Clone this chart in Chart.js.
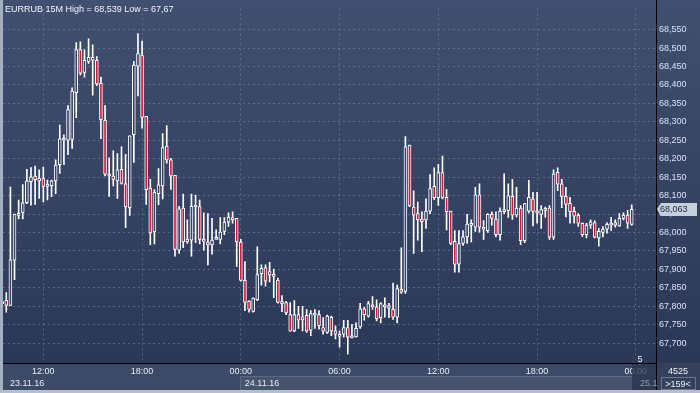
<!DOCTYPE html>
<html>
<head>
<meta charset="utf-8">
<script src="https://cdn.jsdelivr.net/npm/chart.js@4.4.0/dist/chart.umd.min.js"></script>
<style>
  html, body { margin: 0; padding: 0; background: #3b4867; }
  #c { display: block; }
</style>
</head>
<body>
<canvas id="c" width="700" height="393"></canvas>
<script>
// ---------- Data (15 min bars, 23.11.16 09:30 .. 24.11.16 23:45) ----------
const opens = [
  67.809, 67.816, 67.802, 67.925, 68.046, 68.054, 68.081, 68.138, 68.153, 68.140,
  68.146, 68.125, 68.127, 68.140, 68.184, 68.250, 68.250, 68.252, 68.379, 68.496,
  68.434, 68.464, 68.467, 68.467, 68.404, 68.304, 68.158, 68.153, 68.140, 68.171,
  68.132, 68.067, 68.265, 68.451, 68.480, 68.315, 68.120, 68.002, 68.105, 68.126,
  68.234, 68.197, 68.155, 67.952, 68.066, 67.974, 67.979, 68.069, 68.070, 67.982,
  67.974, 67.966, 67.981, 67.981, 68.003, 68.028, 68.040, 68.038, 67.974, 67.870,
  67.813, 67.786, 67.817, 67.888, 67.905, 67.885, 67.886, 67.870, 67.807, 67.810,
  67.777, 67.733, 67.777, 67.763, 67.775, 67.735, 67.776, 67.777, 67.742, 67.729,
  67.770, 67.733, 67.718, 67.724, 67.742, 67.714, 67.717, 67.744, 67.793, 67.773,
  67.804, 67.798, 67.769, 67.798, 67.802, 67.792, 67.770, 67.846, 67.840, 68.237,
  68.069, 68.051, 68.036, 68.034, 68.058, 68.125, 68.094, 68.162, 68.095, 68.058,
  67.976, 67.914, 67.970, 67.988, 68.019, 68.014, 68.102, 68.009, 68.005, 68.049,
  68.036, 67.994, 68.056, 68.060, 68.098, 68.047, 68.066, 67.978, 68.058, 68.091,
  68.057, 68.049, 68.060, 68.066, 67.987, 68.163, 68.132, 68.098, 68.079, 68.057,
  68.047, 68.025, 67.994, 68.020, 68.027, 67.985, 68.000, 68.009, 68.020, 68.027,
  68.018, 68.038, 68.047, 68.022
];
const highs = [
  67.819, 67.837, 68.123, 68.050, 68.088, 68.130, 68.171, 68.176, 68.180, 68.170,
  68.177, 68.142, 68.142, 68.197, 68.291, 68.265, 68.344, 68.392, 68.515, 68.517,
  68.495, 68.525, 68.509, 68.477, 68.421, 68.344, 68.202, 68.221, 68.214, 68.232,
  68.212, 68.262, 68.464, 68.539, 68.519, 68.315, 68.144, 68.116, 68.173, 68.268,
  68.290, 68.201, 68.155, 68.071, 68.104, 68.034, 68.104, 68.101, 68.088, 68.053,
  68.051, 68.038, 68.007, 68.040, 68.040, 68.053, 68.056, 68.038, 67.981, 67.921,
  67.815, 67.823, 67.961, 67.912, 67.912, 67.919, 67.901, 67.876, 67.829, 67.813,
  67.810, 67.815, 67.800, 67.800, 67.791, 67.788, 67.791, 67.788, 67.769, 67.776,
  67.773, 67.747, 67.733, 67.762, 67.762, 67.751, 67.755, 67.808, 67.797, 67.813,
  67.826, 67.817, 67.810, 67.823, 67.808, 67.863, 67.857, 67.958, 68.260, 68.237,
  68.113, 68.082, 68.056, 68.091, 68.157, 68.175, 68.185, 68.207, 68.117, 68.058,
  68.005, 68.005, 68.005, 68.049, 68.034, 68.122, 68.132, 68.032, 68.051, 68.056,
  68.056, 68.067, 68.159, 68.132, 68.144, 68.122, 68.073, 68.079, 68.141, 68.109,
  68.109, 68.073, 68.069, 68.073, 68.170, 68.175, 68.144, 68.122, 68.095, 68.069,
  68.051, 68.026, 68.025, 68.034, 68.032, 68.011, 68.016, 68.027, 68.041, 68.034,
  68.051, 68.053, 68.060, 68.075
];
const lows = [
  67.796, 67.784, 67.802, 67.872, 68.037, 68.037, 68.078, 68.074, 68.076, 68.092,
  68.083, 68.088, 68.097, 68.105, 68.160, 68.184, 68.211, 68.228, 68.311, 68.427,
  68.421, 68.458, 68.372, 68.398, 68.254, 68.153, 68.098, 68.126, 68.092, 68.131,
  68.013, 68.046, 68.190, 68.370, 68.283, 68.076, 67.967, 67.969, 68.075, 68.091,
  68.188, 68.117, 67.936, 67.943, 67.959, 67.970, 67.936, 67.972, 67.969, 67.952,
  67.912, 67.941, 67.981, 67.969, 67.994, 68.016, 68.025, 67.908, 67.868, 67.788,
  67.784, 67.784, 67.815, 67.857, 67.854, 67.866, 67.823, 67.808, 67.785, 67.777,
  67.732, 67.731, 67.740, 67.733, 67.729, 67.720, 67.740, 67.738, 67.724, 67.726,
  67.720, 67.711, 67.689, 67.716, 67.670, 67.714, 67.716, 67.740, 67.762, 67.770,
  67.791, 67.760, 67.755, 67.770, 67.769, 67.764, 67.755, 67.835, 67.835, 68.070,
  67.943, 67.979, 67.948, 68.011, 68.051, 68.089, 68.073, 68.091, 68.007, 67.967,
  67.892, 67.892, 67.965, 67.970, 67.974, 68.003, 68.001, 67.981, 68.000, 68.020,
  67.988, 67.979, 68.051, 68.041, 68.035, 68.042, 67.967, 67.972, 68.053, 68.018,
  68.025, 68.011, 68.041, 67.981, 67.981, 68.113, 68.067, 68.042, 68.025, 68.025,
  68.016, 67.989, 67.985, 68.011, 67.985, 67.963, 67.988, 67.998, 68.005, 68.014,
  68.016, 68.034, 68.011, 68.020
];
const closes = [
  67.807, 67.802, 67.926, 68.049, 68.052, 68.080, 68.140, 68.151, 68.143, 68.147,
  68.125, 68.130, 68.140, 68.183, 68.254, 68.252, 68.333, 68.383, 68.496, 68.432,
  68.467, 68.475, 68.475, 68.403, 68.306, 68.158, 68.153, 68.144, 68.170, 68.133,
  68.069, 68.262, 68.454, 68.485, 68.312, 68.116, 67.999, 68.109, 68.129, 68.230,
  68.197, 68.153, 67.954, 68.064, 67.974, 67.982, 68.071, 68.073, 67.981, 67.976,
  67.966, 67.979, 67.985, 68.001, 68.028, 68.042, 68.034, 67.974, 67.870, 67.810,
  67.791, 67.822, 67.886, 67.903, 67.868, 67.894, 67.881, 67.810, 67.811, 67.782,
  67.732, 67.777, 67.762, 67.771, 67.733, 67.780, 67.780, 67.747, 67.732, 67.773,
  67.733, 67.724, 67.723, 67.742, 67.716, 67.717, 67.740, 67.793, 67.777, 67.807,
  67.798, 67.766, 67.807, 67.802, 67.795, 67.770, 67.848, 67.838, 68.232, 68.072,
  68.047, 68.034, 68.029, 68.058, 68.119, 68.094, 68.162, 68.095, 68.056, 67.970,
  67.913, 67.970, 67.988, 68.023, 68.022, 68.102, 68.014, 68.014, 68.049, 68.038,
  67.994, 68.058, 68.062, 68.100, 68.047, 68.066, 67.978, 68.078, 68.095, 68.057,
  68.053, 68.062, 68.064, 67.987, 68.159, 68.131, 68.098, 68.076, 68.056, 68.044,
  68.025, 67.994, 68.020, 68.029, 67.987, 68.003, 68.009, 68.022, 68.025, 68.020,
  68.038, 68.047, 68.025, 68.063
];

// time axis: bar index of each labelled hour
const timeTickIdx = [10, 34, 58, 82, 106, 130, 154];
const timeTickLabels = ['12:00', '18:00', '00:00', '06:00', '12:00', '18:00', '00:00'];
const dayLabels = ['23.11.16', '24.11.16', '25.1'];

const priceTicks = [67.70, 67.75, 67.80, 67.85, 67.90, 67.95, 68.00, 68.05, 68.10,
  68.15, 68.20, 68.25, 68.30, 68.35, 68.40, 68.45, 68.50, 68.55];

const titleText = 'EURRUB 15M High = 68,539 Low = 67,67';

// ---------- Styles ----------
const FONT = 'Liberation Sans, Arial, sans-serif';
const RED = '#dc143c';
const UP_FILL = '#36446a';
const GRID = 'rgba(120,136,170,0.55)';
const fmt = v => v.toFixed(3).replace('.', ',');

// ---------- Background / overlay ----------
const bgPlugin = {
  id: 'bg',
  beforeDraw(chart) {
    const { ctx, chartArea: a } = chart;
    ctx.save();
    ctx.fillStyle = '#3b4867';
    ctx.fillRect(0, 0, 700, 393);
    const g = ctx.createLinearGradient(0, 0, 0, a.bottom);
    g.addColorStop(0, '#414f70');
    g.addColorStop(1, '#2b3756');
    ctx.fillStyle = g;
    ctx.fillRect(0, 0, 700, a.bottom);
    // time axis strip
    ctx.fillStyle = '#3c4967';
    ctx.fillRect(0, a.bottom, a.right, 27);
    // current day box in the date row
    const x24 = Math.round(chart.scales.x.getPixelForValue(timeTickIdx[2])) - 1;
    ctx.fillStyle = '#47546f';
    ctx.fillRect(x24, 376, 632 - x24, 14);
    ctx.strokeStyle = '#5d6984';
    ctx.lineWidth = 1;
    ctx.beginPath();
    ctx.moveTo(x24 + 0.5, 390);
    ctx.lineTo(x24 + 0.5, 376.5);
    ctx.lineTo(632, 376.5);
    ctx.stroke();
    // corner box
    ctx.fillStyle = '#34405c';
    ctx.fillRect(a.right, a.bottom, 700 - a.right, 27);
    ctx.restore();
  },
  afterDraw(chart) {
    const { ctx, chartArea: a, scales } = chart;
    ctx.save();
    // black axis lines
    ctx.strokeStyle = '#000';
    ctx.lineWidth = 1;
    ctx.beginPath();
    ctx.moveTo(a.right + 0.5, 0);
    ctx.lineTo(a.right + 0.5, 390);
    ctx.stroke();

    // title
    ctx.font = '9px ' + FONT;
    ctx.fillStyle = '#f2f4f8';
    ctx.textBaseline = 'alphabetic';
    ctx.textAlign = 'left';
    ctx.fillText(titleText, 5, 12);

    // dates
    ctx.fillStyle = '#e8edf5';
    ctx.fillText(dayLabels[0], 10, 386);
    const x24 = scales.x.getPixelForValue(timeTickIdx[2]);
    ctx.fillText(dayLabels[1], x24 + 4, 386);

    // scroll marker over the last time label
    ctx.fillStyle = 'rgba(44,55,80,0.78)';
    ctx.fillRect(632, 364, a.right - 632, 26);
    ctx.fillStyle = '#2f3b57';
    ctx.beginPath();
    ctx.moveTo(628, 363);
    ctx.lineTo(633, 356);
    ctx.lineTo(638, 363);
    ctx.fill();
    ctx.fillStyle = '#8e99ad';
    ctx.fillText(dayLabels[2], 640, 386);
    ctx.fillStyle = '#eef2f8';
    ctx.textAlign = 'center';
    ctx.fillText('5', 640, 362);

    // corner info
    ctx.fillStyle = '#eef2f8';
    ctx.fillText('4525', 678, 374);
    ctx.strokeStyle = '#6b7791';
    ctx.strokeRect(661.5, 377.5, 34, 12);
    ctx.fillText('>159<', 678, 387);

    // last price tag
    const last = closes[closes.length - 1];
    const yp = Math.round(scales.y.getPixelForValue(last));
    ctx.fillStyle = '#c6cfdc';
    ctx.beginPath();
    ctx.moveTo(a.right + 1, yp);
    ctx.lineTo(a.right + 5, yp - 6);
    ctx.lineTo(697, yp - 6);
    ctx.lineTo(697, yp + 7);
    ctx.lineTo(a.right + 5, yp + 7);
    ctx.closePath();
    ctx.fill();
    ctx.fillStyle = '#1e2a44';
    ctx.textAlign = 'left';
    ctx.textBaseline = 'middle';
    ctx.fillText(fmt(last), a.right + 4, yp + 1);

    // outer frame
    ctx.fillStyle = '#a4afc0';
    ctx.fillRect(0, 0, 3, 393);
    ctx.fillStyle = '#b8bfca';
    ctx.fillRect(0, 390, 700, 3);
    ctx.restore();
  }
};

// ---------- Chart ----------
const ctx = document.getElementById('c').getContext('2d');
const chart = new Chart(ctx, {
  type: 'bar',
  data: {
    datasets: [
      {
        label: 'body',
        data: opens.map((o, i) => ({ x: i, y: [o, closes[i]] })),
        backgroundColor: c => (closes[c.dataIndex] < opens[c.dataIndex] ? RED : UP_FILL),
        borderColor: '#ffffff',
        borderWidth: 1,
        borderSkipped: false,
        barThickness: 3,
        minBarLength: 2,
        grouped: false,
        order: 1
      },
      {
        label: 'wick',
        data: lows.map((l, i) => ({ x: i, y: [l, highs[i]] })),
        backgroundColor: '#ffffff',
        borderWidth: 0,
        barThickness: 1,
        grouped: false,
        order: 2
      }
    ]
  },
  options: {
    responsive: false,
    devicePixelRatio: 1,
    animation: false,
    layout: { padding: { left: 3, top: 0, right: 0, bottom: 0 } },
    plugins: { legend: { display: false }, tooltip: { enabled: false } },
    scales: {
      x: {
        type: 'linear',
        min: 0.2,
        max: 158.9,
        offset: false,
        grid: { color: GRID, drawTicks: false, offset: false },
        border: { color: '#000', width: 1, dash: [2, 3] },
        ticks: {
          autoSkip: false,
          maxRotation: 0,
          padding: 3,
          color: '#e8edf5',
          font: { family: FONT, size: 9 },
          callback: v => timeTickLabels[timeTickIdx.indexOf(v)]
        },
        afterBuildTicks: s => { s.ticks = timeTickIdx.map(v => ({ value: v })); },
        afterFit: s => { s.height = 30; }
      },
      y: {
        type: 'linear',
        position: 'right',
        min: 67.646,
        max: 68.6075,
        grid: { color: GRID, drawTicks: false },
        border: { color: '#000', width: 1, dash: [2, 3] },
        ticks: {
          padding: 3,
          color: '#d6e2f6',
          font: { family: FONT, size: 9 },
          callback: v => fmt(v)
        },
        afterBuildTicks: s => { s.ticks = priceTicks.map(v => ({ value: v })); },
        afterFit: s => { s.width = 44; }
      }
    }
  },
  plugins: [bgPlugin]
});
</script>
</body>
</html>
